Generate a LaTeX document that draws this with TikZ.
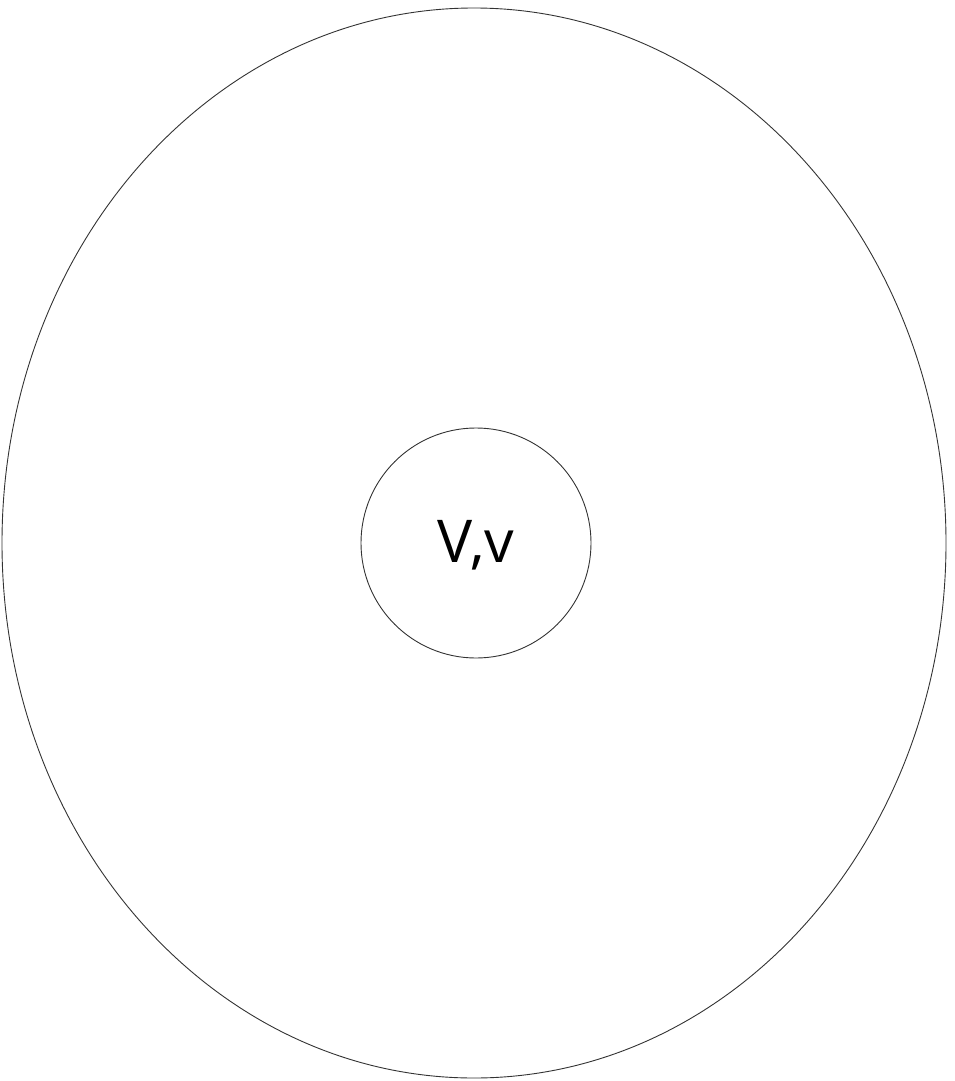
\documentclass[tikz,border=0pt]{standalone}
\usepackage{fontspec}
\setmainfont{Open Sans}
\usetikzlibrary{positioning,shapes.geometric}
\definecolor{Line}{HTML}{333333}

\begin{document}
\begin{tikzpicture}[x=1pt,y=-1pt,every node/.style={font=\fontsize{59}{60}\selectfont}]
  \useasboundingbox (0,0) rectangle (954,1081);
  \node[draw=Line,line width=0.9pt,ellipse,minimum width=944pt,minimum height=1070pt,inner sep=0pt] (outer) at (474,543) {};
  \node[draw=Line,line width=0.9pt,circle,minimum size=230pt,inner sep=0pt] (inner) at (476,543) {};
  \node[inner sep=0pt] (label) at (476,545) {V,v};
\end{tikzpicture}
\end{document}
